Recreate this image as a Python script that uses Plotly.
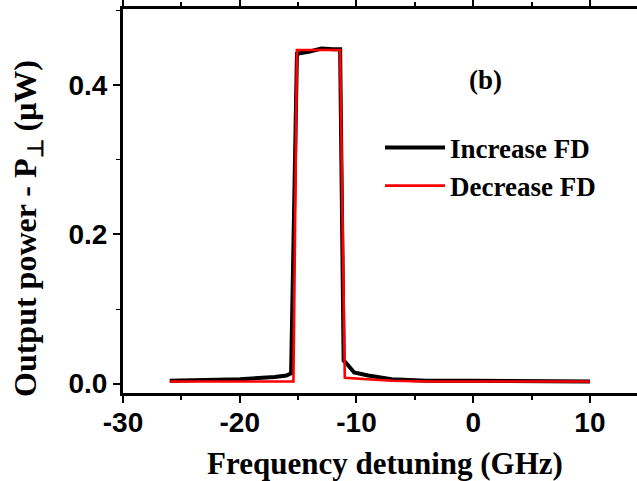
import plotly.graph_objects as go

# Frequency detuning (GHz) and output power P_perp (uW)
inc_fd_x = [-26, -20, -17, -16, -15.6, -15.1, -14, -13, -12, -11.4, -11.1, -10.9, -10.2, -9, -7, -4, 0, 5, 10]
inc_fd_y = [0.004, 0.006, 0.009, 0.011, 0.014, 0.442, 0.445, 0.449, 0.448, 0.448, 0.031, 0.028, 0.015, 0.011, 0.006, 0.004, 0.004, 0.003, 0.003]

dec_fd_x = [-26, -20, -15.4, -15.1, -14, -13, -12, -11.4, -11.0, -10, -7, -4, 0, 5, 10]
dec_fd_y = [0.003, 0.003, 0.003, 0.447, 0.447, 0.448, 0.447, 0.447, 0.008, 0.007, 0.004, 0.003, 0.003, 0.003, 0.003]

x_ticks = [-30, -20, -10, 0, 10]
y_ticks = [0.0, 0.2, 0.4]
y_tick_text = ["0.0", "0.2", "0.4"]

serif = "Liberation Serif, Times New Roman, serif"
sans = "Liberation Sans, Arial, sans-serif"

W, H = 637, 481
M_L, M_R, M_T, M_B = 123, 0, 9, 88
plot_w = W - M_L - M_R
plot_h = H - M_T - M_B


def px_to_paper(px, py):
    """Convert page pixels to plot-area paper coordinates."""
    return (px - M_L) / plot_w, (H - M_B - py) / plot_h


fig = go.Figure()
fig.add_trace(go.Scatter(x=inc_fd_x, y=inc_fd_y, mode="lines", name="Increase FD",
                         line=dict(color="black", width=4)))
fig.add_trace(go.Scatter(x=dec_fd_x, y=dec_fd_y, mode="lines", name="Decrease FD",
                         line=dict(color="#ff0000", width=2.6)))

b_x, b_y = px_to_paper(485, 80)
yt_x, yt_y = px_to_paper(27, 229)
xt_x, xt_y = px_to_paper(385, 463)
lg_x, lg_y = px_to_paper(0, 167)

fig.update_layout(
    width=W, height=H,
    margin=dict(l=M_L, r=M_R, t=M_T, b=M_B),
    paper_bgcolor="white", plot_bgcolor="white",
    showlegend=True,
    legend=dict(x=0.50, y=lg_y, xanchor="left", yanchor="middle",
                font=dict(family=serif, size=27, color="black", weight="bold"),
                bgcolor="rgba(0,0,0,0)", itemwidth=60, tracegroupgap=0),
    annotations=[
        dict(text="<b>(b)</b>", x=b_x, y=b_y, xref="paper", yref="paper",
             xanchor="center", yanchor="middle",
             showarrow=False, font=dict(family=serif, size=27, color="black")),
        dict(text="<b>Output power - P<sub>⊥</sub> (μW)</b>", x=yt_x, y=yt_y,
             xref="paper", yref="paper", xanchor="center", yanchor="middle",
             textangle=-90, showarrow=False,
             font=dict(family=serif, size=32, color="black")),
        dict(text="<b>Frequency detuning (GHz)</b>", x=xt_x, y=xt_y,
             xref="paper", yref="paper", xanchor="center", yanchor="middle",
             showarrow=False, font=dict(family=serif, size=31, color="black")),
    ],
)

fig.update_xaxes(
    range=[-30, 14.03], tickvals=x_ticks, ticktext=[str(v) for v in x_ticks],
    showgrid=False, zeroline=False,
    showline=True, linecolor="black", linewidth=3, mirror="ticks",
    ticks="outside", ticklen=7, tickwidth=2, tickcolor="black",
    minor=dict(dtick=5, tick0=-30, ticks="outside", ticklen=4, tickwidth=2, tickcolor="black"),
    tickfont=dict(family=sans, size=28, color="black", weight="bold"),
    ticklabelstandoff=-5,
)
fig.update_yaxes(
    range=[-0.0125, 0.502], tickvals=y_ticks, ticktext=y_tick_text,
    showgrid=False, zeroline=False,
    showline=True, linecolor="black", linewidth=3,
    ticks="outside", ticklen=7, tickwidth=2, tickcolor="black",
    minor=dict(dtick=0.1, tick0=0, ticks="outside", ticklen=4, tickwidth=1, tickcolor="black"),
    tickfont=dict(family=sans, size=28, color="black", weight="bold"),
)

fig.write_html("out.html")
